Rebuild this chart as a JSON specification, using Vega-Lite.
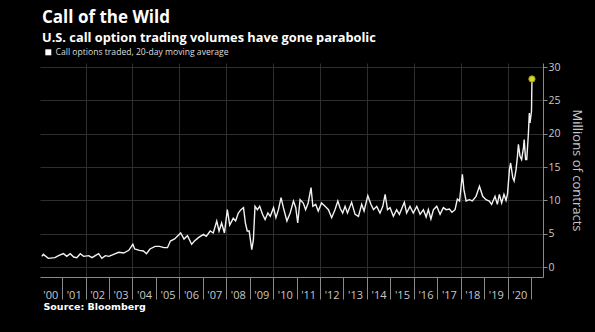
{
  "$schema": "https://vega.github.io/schema/vega-lite/v6.json",
  "width": 503,
  "height": 214,
  "autosize": "none",
  "padding": {"left": 40, "top": 63, "right": 52, "bottom": 55},
  "background": "#000000",
  "config": {"view": {"stroke": null}},
  "title": {
    "text": "Call of the Wild",
    "subtitle": "U.S. call option trading volumes have gone parabolic",
    "anchor": "start",
    "frame": "group",
    "font": "Open Sans",
    "fontSize": 17,
    "fontWeight": "bold",
    "color": "#ffffff",
    "subtitleFont": "Open Sans",
    "subtitleFontSize": 12.8,
    "subtitleFontWeight": "bold",
    "subtitleColor": "#ffffff",
    "subtitlePadding": 5,
    "offset": 2,
    "dx": 2
  },
  "datasets": {
    "calls": [
      {"date": "2000-02-20", "v": 1.6}, {"date": "2000-03-15", "v": 1.9}, {"date": "2000-06-01", "v": 1.3},
      {"date": "2000-09-12", "v": 1.4}, {"date": "2000-11-06", "v": 1.7}, {"date": "2001-01-22", "v": 2.0},
      {"date": "2001-03-15", "v": 1.6}, {"date": "2001-05-08", "v": 2.0}, {"date": "2001-07-01", "v": 1.5},
      {"date": "2001-08-18", "v": 1.4}, {"date": "2001-10-12", "v": 2.0}, {"date": "2001-12-01", "v": 1.6},
      {"date": "2002-02-20", "v": 1.7}, {"date": "2002-04-12", "v": 1.4}, {"date": "2002-06-02", "v": 1.7},
      {"date": "2002-07-24", "v": 2.0}, {"date": "2002-09-12", "v": 1.3}, {"date": "2002-11-06", "v": 1.7},
      {"date": "2003-01-01", "v": 1.6}, {"date": "2003-03-15", "v": 1.9}, {"date": "2003-06-02", "v": 2.2},
      {"date": "2003-08-18", "v": 2.1}, {"date": "2003-11-06", "v": 2.5}, {"date": "2004-01-08", "v": 3.4},
      {"date": "2004-02-06", "v": 2.7}, {"date": "2004-04-20", "v": 2.5}, {"date": "2004-06-20", "v": 2.4},
      {"date": "2004-08-07", "v": 2.0}, {"date": "2004-10-01", "v": 2.7}, {"date": "2004-12-20", "v": 3.1},
      {"date": "2005-02-25", "v": 3.1}, {"date": "2005-05-08", "v": 2.9}, {"date": "2005-07-01", "v": 2.9},
      {"date": "2005-08-15", "v": 3.9}, {"date": "2005-10-20", "v": 4.2}, {"date": "2006-01-22", "v": 5.1},
      {"date": "2006-03-15", "v": 4.2}, {"date": "2006-05-08", "v": 4.7}, {"date": "2006-07-12", "v": 3.4},
      {"date": "2006-08-25", "v": 3.9}, {"date": "2006-10-26", "v": 4.4}, {"date": "2007-01-12", "v": 4.9},
      {"date": "2007-02-25", "v": 4.6}, {"date": "2007-04-27", "v": 5.4}, {"date": "2007-06-14", "v": 5.1},
      {"date": "2007-08-07", "v": 6.9}, {"date": "2007-09-12", "v": 5.4}, {"date": "2007-10-22", "v": 6.6},
      {"date": "2007-12-05", "v": 5.1}, {"date": "2008-01-19", "v": 8.6}, {"date": "2008-02-25", "v": 6.3},
      {"date": "2008-04-20", "v": 7.3}, {"date": "2008-05-27", "v": 6.9}, {"date": "2008-07-08", "v": 8.1},
      {"date": "2008-08-18", "v": 8.6}, {"date": "2008-09-27", "v": 8.9}, {"date": "2008-10-26", "v": 6.6},
      {"date": "2008-11-24", "v": 5.4}, {"date": "2008-12-24", "v": 5.4}, {"date": "2009-02-03", "v": 2.6},
      {"date": "2009-02-28", "v": 4.1}, {"date": "2009-03-25", "v": 9.1}, {"date": "2009-05-01", "v": 8.6},
      {"date": "2009-06-06", "v": 9.1}, {"date": "2009-07-20", "v": 7.9}, {"date": "2009-08-29", "v": 7.1},
      {"date": "2009-10-12", "v": 8.1}, {"date": "2009-11-18", "v": 7.6}, {"date": "2010-01-08", "v": 8.9},
      {"date": "2010-02-14", "v": 7.4}, {"date": "2010-03-25", "v": 8.6}, {"date": "2010-05-05", "v": 10.4},
      {"date": "2010-06-10", "v": 8.9}, {"date": "2010-08-04", "v": 6.9}, {"date": "2010-09-24", "v": 8.1},
      {"date": "2010-11-14", "v": 9.9}, {"date": "2010-12-20", "v": 8.9}, {"date": "2011-01-19", "v": 6.6},
      {"date": "2011-02-25", "v": 10.1}, {"date": "2011-04-16", "v": 9.6}, {"date": "2011-05-22", "v": 8.6},
      {"date": "2011-07-01", "v": 9.6}, {"date": "2011-08-15", "v": 11.9}, {"date": "2011-09-12", "v": 9.1},
      {"date": "2011-10-26", "v": 9.4}, {"date": "2011-12-05", "v": 8.4}, {"date": "2012-01-26", "v": 9.6},
      {"date": "2012-03-20", "v": 9.1}, {"date": "2012-05-12", "v": 8.6}, {"date": "2012-07-01", "v": 7.4},
      {"date": "2012-08-22", "v": 8.6}, {"date": "2012-10-05", "v": 9.9}, {"date": "2012-11-10", "v": 8.8},
      {"date": "2012-12-20", "v": 8.1}, {"date": "2013-01-26", "v": 9.1}, {"date": "2013-03-04", "v": 8.1},
      {"date": "2013-05-08", "v": 9.7}, {"date": "2013-07-01", "v": 7.9}, {"date": "2013-08-22", "v": 7.6},
      {"date": "2013-10-12", "v": 9.4}, {"date": "2013-11-18", "v": 8.4}, {"date": "2014-01-15", "v": 10.7},
      {"date": "2014-03-04", "v": 9.4}, {"date": "2014-04-14", "v": 8.6}, {"date": "2014-06-03", "v": 9.1},
      {"date": "2014-07-24", "v": 8.1}, {"date": "2014-09-06", "v": 9.1}, {"date": "2014-10-12", "v": 10.9},
      {"date": "2014-11-18", "v": 8.6}, {"date": "2014-12-28", "v": 8.9}, {"date": "2015-02-17", "v": 7.6},
      {"date": "2015-04-09", "v": 8.6}, {"date": "2015-05-22", "v": 7.9}, {"date": "2015-08-07", "v": 9.7},
      {"date": "2015-09-12", "v": 8.1}, {"date": "2015-11-03", "v": 9.1}, {"date": "2015-12-24", "v": 8.1},
      {"date": "2016-02-17", "v": 9.1}, {"date": "2016-04-09", "v": 7.9}, {"date": "2016-05-30", "v": 8.6},
      {"date": "2016-07-12", "v": 7.5}, {"date": "2016-08-15", "v": 8.6}, {"date": "2016-09-24", "v": 7.2},
      {"date": "2016-11-03", "v": 8.6}, {"date": "2016-12-24", "v": 9.1}, {"date": "2017-02-14", "v": 7.9},
      {"date": "2017-04-06", "v": 8.9}, {"date": "2017-05-20", "v": 8.6}, {"date": "2017-07-09", "v": 8.7},
      {"date": "2017-08-18", "v": 8.2}, {"date": "2017-10-05", "v": 8.6}, {"date": "2017-11-10", "v": 10.2},
      {"date": "2017-12-14", "v": 9.9}, {"date": "2018-01-27", "v": 13.9}, {"date": "2018-02-20", "v": 11.6},
      {"date": "2018-03-26", "v": 9.9}, {"date": "2018-05-16", "v": 10.1}, {"date": "2018-07-01", "v": 9.9},
      {"date": "2018-08-28", "v": 10.6}, {"date": "2018-10-20", "v": 12.1}, {"date": "2018-12-10", "v": 10.6},
      {"date": "2019-01-30", "v": 10.1}, {"date": "2019-03-22", "v": 9.9}, {"date": "2019-04-28", "v": 9.4},
      {"date": "2019-06-20", "v": 10.6}, {"date": "2019-07-26", "v": 9.4}, {"date": "2019-08-26", "v": 10.9},
      {"date": "2019-10-01", "v": 9.6}, {"date": "2019-11-06", "v": 10.9}, {"date": "2019-12-08", "v": 10.0},
      {"date": "2020-01-01", "v": 11.0}, {"date": "2020-01-30", "v": 14.6}, {"date": "2020-02-18", "v": 15.6},
      {"date": "2020-03-22", "v": 13.4}, {"date": "2020-04-12", "v": 12.9}, {"date": "2020-05-12", "v": 14.6},
      {"date": "2020-06-03", "v": 16.6}, {"date": "2020-06-18", "v": 18.4}, {"date": "2020-07-13", "v": 16.6},
      {"date": "2020-08-07", "v": 16.1}, {"date": "2020-09-05", "v": 17.9}, {"date": "2020-09-16", "v": 19.1},
      {"date": "2020-10-08", "v": 16.1}, {"date": "2020-10-26", "v": 16.1}, {"date": "2020-11-21", "v": 20.1},
      {"date": "2020-12-05", "v": 23.1}, {"date": "2020-12-16", "v": 21.6}, {"date": "2021-01-08", "v": 23.4},
      {"date": "2021-01-15", "v": 28.2}
    ],
    "latest": [{"date": "2021-01-15", "v": 28.2}]
  },
  "resolve": {"axis": {"x": "independent", "y": "independent"}},
  "layer": [
    {
      "data": {"name": "latest"},
      "mark": {"type": "point", "opacity": 0},
      "encoding": {
        "x": {
          "field": "date", "type": "temporal",
          "scale": {"type": "utc", "domain": [{"year": 2000, "month": 1, "date": 23, "utc": true}, {"year": 2021, "month": 7, "date": 6, "utc": true}]},
          "axis": {
            "orient": "bottom", "title": null, "labels": false, "ticks": false, "domain": false,
            "grid": true, "gridColor": "#2e2e2e", "gridWidth": 1,
            "values": [
              {"year": 2002, "month": 1, "date": 1, "utc": true}, {"year": 2004, "month": 1, "date": 1, "utc": true},
              {"year": 2006, "month": 1, "date": 1, "utc": true}, {"year": 2008, "month": 1, "date": 1, "utc": true},
              {"year": 2010, "month": 1, "date": 1, "utc": true}, {"year": 2012, "month": 1, "date": 1, "utc": true},
              {"year": 2014, "month": 1, "date": 1, "utc": true}, {"year": 2016, "month": 1, "date": 1, "utc": true},
              {"year": 2018, "month": 1, "date": 1, "utc": true}, {"year": 2020, "month": 1, "date": 1, "utc": true}
            ]
          }
        },
        "y": {
          "field": "v", "type": "quantitative",
          "scale": {"domain": [-1.5, 30.6], "nice": false, "zero": false},
          "axis": {
            "orient": "right", "values": [0, 5, 10, 15, 20, 25, 30],
            "grid": true, "gridColor": "#2e2e2e", "gridWidth": 1,
            "domain": true, "domainColor": "#8a8a8a", "ticks": true, "tickColor": "#8a8a8a", "tickSize": 4,
            "labelColor": "#c8c8c8", "labelFont": "Open Sans", "labelFontSize": 10.5, "labelPadding": 1,
            "title": "Millions of contracts", "titleColor": "#c8c8c8", "titleFont": "Open Sans",
            "titleFontSize": 13, "titleFontWeight": "normal", "titlePadding": 9
          }
        }
      }
    },
    {
      "data": {"name": "calls"},
      "mark": {"type": "line", "strokeWidth": 1.4, "interpolate": "linear"},
      "encoding": {
        "x": {
          "field": "date", "type": "temporal",
          "scale": {"type": "utc", "domain": [{"year": 2000, "month": 1, "date": 23, "utc": true}, {"year": 2021, "month": 7, "date": 6, "utc": true}]},
          "axis": {
            "orient": "bottom", "grid": false, "ticks": false, "tickSize": 0, "domain": false,
            "labelColor": "#c8c8c8", "labelFont": "Open Sans", "labelFontSize": 11, "labelBaseline": "middle",
            "labelPadding": 18, "labelAlign": "center",
            "labelExpr": "\"'\" + utcFormat(datum.value, '%y')",
            "values": [
              {"year": 2000, "month": 7, "date": 1, "utc": true}, {"year": 2001, "month": 7, "date": 1, "utc": true},
              {"year": 2002, "month": 7, "date": 1, "utc": true}, {"year": 2003, "month": 7, "date": 1, "utc": true},
              {"year": 2004, "month": 7, "date": 1, "utc": true}, {"year": 2005, "month": 7, "date": 1, "utc": true},
              {"year": 2006, "month": 7, "date": 1, "utc": true}, {"year": 2007, "month": 7, "date": 1, "utc": true},
              {"year": 2008, "month": 7, "date": 1, "utc": true}, {"year": 2009, "month": 7, "date": 1, "utc": true},
              {"year": 2010, "month": 7, "date": 1, "utc": true}, {"year": 2011, "month": 7, "date": 1, "utc": true},
              {"year": 2012, "month": 7, "date": 1, "utc": true}, {"year": 2013, "month": 7, "date": 1, "utc": true},
              {"year": 2014, "month": 7, "date": 1, "utc": true}, {"year": 2015, "month": 7, "date": 1, "utc": true},
              {"year": 2016, "month": 7, "date": 1, "utc": true}, {"year": 2017, "month": 7, "date": 1, "utc": true},
              {"year": 2018, "month": 7, "date": 1, "utc": true}, {"year": 2019, "month": 7, "date": 1, "utc": true},
              {"year": 2020, "month": 7, "date": 1, "utc": true}
            ],
            "title": "Source: Bloomberg", "titleColor": "#ffffff", "titleFont": "DejaVu Sans", "titleFontSize": 9.5,
            "titleFontWeight": "bold", "titleAlign": "left", "titleAnchor": "start", "titleBaseline": "alphabetic",
            "titleX": 3, "titleY": 32
          }
        },
        "y": {
          "field": "v", "type": "quantitative",
          "scale": {"domain": [-1.5, 30.6], "nice": false, "zero": false},
          "axis": null
        },
        "color": {
          "datum": "Call options traded, 20-day moving average",
          "scale": {"range": ["#f2f2f2"]},
          "legend": {
            "orient": "none", "legendX": 4, "legendY": -15, "title": null, "padding": 0,
            "symbolType": "square", "symbolSize": 36, "symbolFillColor": "#ffffff", "symbolStrokeColor": "#ffffff",
            "symbolStrokeWidth": 0, "labelColor": "#dddddd", "labelFont": "Open Sans", "labelFontSize": 8.6,
            "labelOffset": 3, "labelLimit": 400
          }
        }
      }
    },
    {
      "data": {"name": "latest"},
      "mark": {"type": "point", "filled": true, "color": "#d6d62a", "stroke": "#9a9a10", "strokeWidth": 1, "size": 40, "opacity": 1},
      "encoding": {
        "x": {
          "field": "date", "type": "temporal",
          "scale": {"type": "utc", "domain": [{"year": 2000, "month": 1, "date": 23, "utc": true}, {"year": 2021, "month": 7, "date": 6, "utc": true}]},
          "axis": {
            "orient": "bottom", "title": null, "labels": false, "grid": false,
            "ticks": true, "tickSize": 22, "tickColor": "#8a8a8a", "domain": true, "domainColor": "#8a8a8a",
            "values": [
              {"year": 2001, "month": 1, "date": 1, "utc": true}, {"year": 2002, "month": 1, "date": 1, "utc": true},
              {"year": 2003, "month": 1, "date": 1, "utc": true}, {"year": 2004, "month": 1, "date": 1, "utc": true},
              {"year": 2005, "month": 1, "date": 1, "utc": true}, {"year": 2006, "month": 1, "date": 1, "utc": true},
              {"year": 2007, "month": 1, "date": 1, "utc": true}, {"year": 2008, "month": 1, "date": 1, "utc": true},
              {"year": 2009, "month": 1, "date": 1, "utc": true}, {"year": 2010, "month": 1, "date": 1, "utc": true},
              {"year": 2011, "month": 1, "date": 1, "utc": true}, {"year": 2012, "month": 1, "date": 1, "utc": true},
              {"year": 2013, "month": 1, "date": 1, "utc": true}, {"year": 2014, "month": 1, "date": 1, "utc": true},
              {"year": 2015, "month": 1, "date": 1, "utc": true}, {"year": 2016, "month": 1, "date": 1, "utc": true},
              {"year": 2017, "month": 1, "date": 1, "utc": true}, {"year": 2018, "month": 1, "date": 1, "utc": true},
              {"year": 2019, "month": 1, "date": 1, "utc": true}, {"year": 2020, "month": 1, "date": 1, "utc": true},
              {"year": 2021, "month": 1, "date": 1, "utc": true}
            ]
          }
        },
        "y": {
          "field": "v", "type": "quantitative",
          "scale": {"domain": [-1.5, 30.6], "nice": false, "zero": false},
          "axis": null
        }
      }
    }
  ]
}
